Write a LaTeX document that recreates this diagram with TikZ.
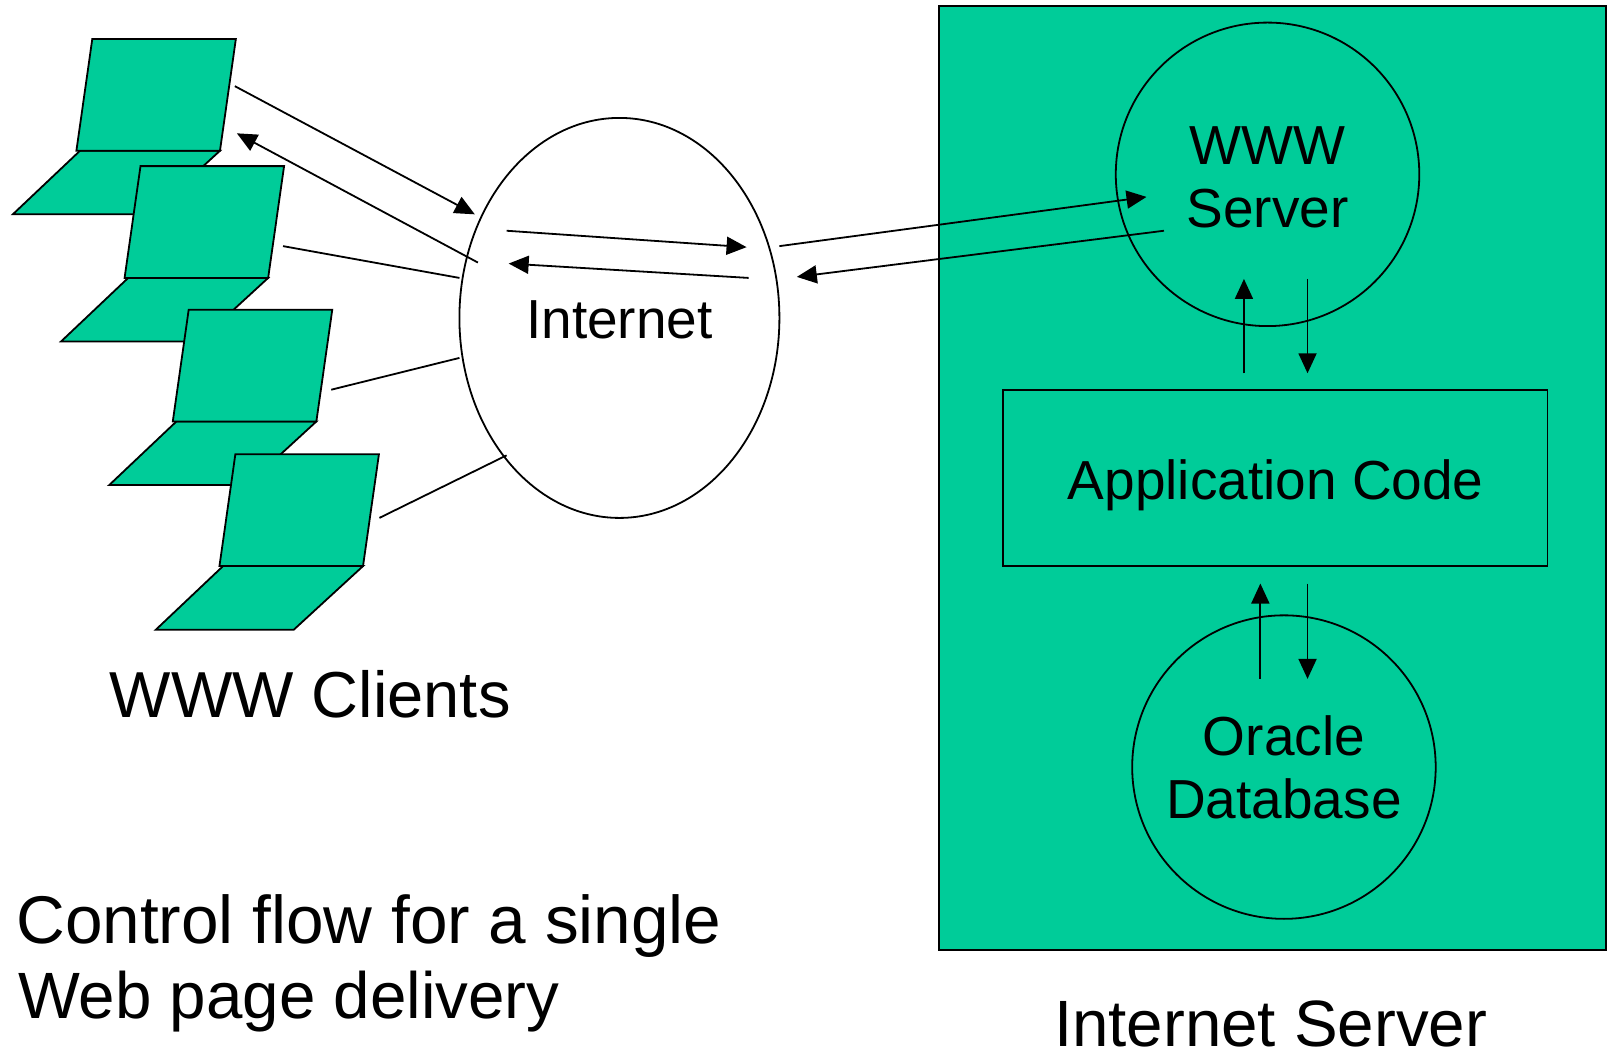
\documentclass[tikz,border=0pt]{standalone}
\usepackage{fontspec}
\setmainfont{Liberation Sans}
\usetikzlibrary{arrows.meta,shapes.geometric}
\definecolor{srvgreen}{HTML}{00CC99}
\begin{document}
\begin{tikzpicture}[x=1.0255pt,y=-1.0255pt,
  line width=1.8pt,
  arr/.style={-{Triangle[length=20pt,width=18pt]}, line width=1.8pt},
  conn/.style={line width=1.8pt},
  bigtxt/.style={font=\fontsize{66}{75}\selectfont, inner sep=0pt},
  midtxt/.style={font=\fontsize{55}{62}\selectfont, inner sep=0pt},
  lapfill/.style={fill=srvgreen, draw=black, line width=1.8pt},
  laptop/.pic={
    \path[lapfill] (-12,109) -- (124.5,109) -- (57,171) -- (-77.5,171) -- cycle;
    \path[lapfill] (0,0) -- (140,0) -- (124.5,109) -- (-15.5,109) -- cycle;
  }]
\useasboundingbox (0,0) rectangle (1568,1034.6);

% laptops
\pic (lap1) at (90,38) {laptop};
\pic (lap2) at (137,162) {laptop};
\pic (lap3) at (184,302) {laptop};
\pic (lap4) at (229.5,443) {laptop};

% internet cloud
\node (inet) [ellipse, draw, fill=white, inner sep=0pt,
  minimum width=320pt, minimum height=400pt] at (604,310) {};

% server
\node (srv) [rectangle, draw, fill=srvgreen, inner sep=0pt,
  minimum width=666.6pt, minimum height=943.5pt] at (1241,466) {};
\node (wwwc) [circle, draw, inner sep=0pt, minimum size=303.5pt] at (1236,170) {};
\node (app) [rectangle, draw, inner sep=0pt,
  minimum width=544.5pt, minimum height=176.4pt] at (1243.5,466) {};
\node (orac) [circle, draw, inner sep=0pt, minimum size=303.5pt] at (1252,748) {};

% texts
\node (t1) [midtxt, anchor=base] at (1236,160) {WWW};
\node (t2) [midtxt, anchor=base] at (1236,222) {Server};
\node (t3) [midtxt, anchor=base] at (604,330) {Internet};
\node (t4) [midtxt, anchor=base] at (1244,487) {Application Code};
\node (t5) [midtxt, anchor=base] at (1252,737) {Oracle};
\node (t6) [midtxt, anchor=base] at (1252,798) {Database};
\node (t7) [bigtxt, font=\fontsize{65}{75}\selectfont, anchor=base] at (302.5,700) {WWW Clients};
\node (t8) [bigtxt, font=\fontsize{67.5}{75}\selectfont, anchor=base west] at (15,920) {Control flow for a single};
\node (t9) [bigtxt, font=\fontsize{65.5}{75}\selectfont, anchor=base west] at (17,993) {Web page delivery};
\node (t10) [bigtxt, font=\fontsize{65.5}{75}\selectfont, anchor=base] at (1239,1020) {Internet Server};

% connector end points
\coordinate (a1s) at (229,84);   \coordinate (a1e) at (463,209);
\coordinate (a2s) at (466,256);  \coordinate (a2e) at (231,130);
\coordinate (l2s) at (276,240);  \coordinate (l2e) at (448,271);
\coordinate (l3s) at (323,380);  \coordinate (l3e) at (448,349);
\coordinate (l4s) at (370,505);  \coordinate (l4e) at (494,444);
\coordinate (a3s) at (494,225);  \coordinate (a3e) at (728,241);
\coordinate (a4s) at (730,271);  \coordinate (a4e) at (496,257);
\coordinate (a5s) at (760,240);  \coordinate (a5e) at (1118,192);
\coordinate (a6s) at (1135,225); \coordinate (a6e) at (777,270);
\coordinate (a7s) at (1213,364); \coordinate (a7e) at (1213,272);
\coordinate (a8s) at (1275,272); \coordinate (a8e) at (1275,364);
\coordinate (a9s) at (1229,662); \coordinate (a9e) at (1229,569);
\coordinate (a10s) at (1275,569); \coordinate (a10e) at (1275,662);

\draw[arr] (a1s) -- (a1e);
\draw[arr] (a2s) -- (a2e);
\draw[conn] (l2s) -- (l2e);
\draw[conn] (l3s) -- (l3e);
\draw[conn] (l4s) -- (l4e);
\draw[arr] (a3s) -- (a3e);
\draw[arr] (a4s) -- (a4e);
\draw[arr] (a5s) -- (a5e);
\draw[arr] (a6s) -- (a6e);
\draw[arr] (a7s) -- (a7e);
\draw[arr] (a8s) -- (a8e);
\draw[arr] (a9s) -- (a9e);
\draw[arr] (a10s) -- (a10e);
\end{tikzpicture}
\end{document}
